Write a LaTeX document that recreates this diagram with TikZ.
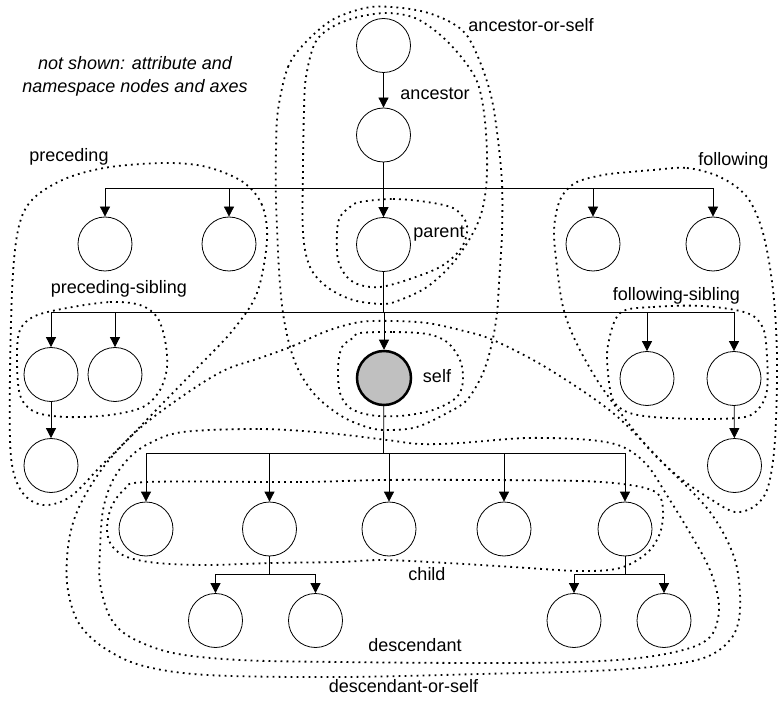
\documentclass[tikz,border=0pt]{standalone}
\usepackage{fontspec}
\setmainfont{Liberation Sans}
\usetikzlibrary{arrows.meta}
\definecolor{selfgray}{RGB}{192,192,192}
\begin{document}
\begin{tikzpicture}[x=1pt,y=-1pt,
  nd/.style={circle,draw,minimum size=54pt,inner sep=0pt,line width=0.8pt},
  selfnd/.style={circle,draw,fill=selfgray,minimum size=54pt,inner sep=0pt,line width=2.5pt},
  arr/.style={-{Triangle[length=10pt,width=10pt]},line width=0.8pt},
  ln/.style={line width=0.8pt},
  axisline/.style={line width=1.8pt,dash pattern=on 1.8pt off 4.2pt},
  lbl/.style={anchor=base,inner sep=0pt,font=\fontsize{18}{21}\selectfont}
]
\useasboundingbox (0,0) rectangle (782,703);

% nodes
\node[nd] (n1) at (383.5,45.5) {};
\node[nd] (n2) at (383.5,135) {};
\node[nd] (r1a) at (105,244) {};
\node[nd] (r1b) at (229,244) {};
\node[nd] (par) at (383.5,244.5) {};
\node[nd] (r1d) at (593,244) {};
\node[nd] (r1e) at (713,244) {};
\node[nd] (ps1) at (51,374.5) {};
\node[nd] (ps2) at (115,374.5) {};
\node[selfnd] (self) at (384,378) {};
\node[nd] (fs1) at (647,378.5) {};
\node[nd] (fs2) at (734,378.5) {};
\node[nd] (psc) at (51,465.5) {};
\node[nd] (fsc) at (734.5,465.5) {};
\node[nd] (ch1) at (146,529) {};
\node[nd] (ch2) at (269.5,529) {};
\node[nd] (ch3) at (389,529) {};
\node[nd] (ch4) at (504,529) {};
\node[nd] (ch5) at (625,529) {};
\node[nd] (gc1) at (215.5,620.5) {};
\node[nd] (gc2) at (315.5,620.5) {};
\node[nd] (gc3) at (574,620.5) {};
\node[nd] (gc4) at (664,620.5) {};

% connectors
\draw[arr] (n1) -- (n2);
\coordinate (b1) at (383.5,188.5);
\draw[ln] (n2) -- (b1);
\foreach \t in {r1a,r1b,par,r1d,r1e} \draw[arr] (b1) -| (\t);
\coordinate (b2) at (383.5,312.5);
\draw[ln] (par) -- (b2);
\foreach \t in {ps1,ps2,self,fs1,fs2} \draw[arr] (b2) -| (\t);
\draw[arr] (ps1) -- (psc);
\draw[arr] (fs2) -- (fsc);
\coordinate (b3) at (383.5,453.5);
\draw[ln] (self) -- (b3);
\foreach \t in {ch1,ch2,ch3,ch4,ch5} \draw[arr] (b3) -| (\t);
\coordinate (b4) at (269.5,574);
\draw[ln] (ch2) -- (b4);
\foreach \t in {gc1,gc2} \draw[arr] (b4) -| (\t);
\coordinate (b5) at (625,574);
\draw[ln] (ch5) -- (b5);
\foreach \t in {gc3,gc4} \draw[arr] (b5) -| (\t);

% axis regions
% ancestor-or-self
\draw[axisline] plot[smooth cycle,tension=0.55] coordinates {
 (278,110) (288,67) (305,43) (332,20) (365,8) (392,7) (425,12) (452,23) (468,37)
 (482,67) (492,100) (498,140) (502,183) (502,233) (499,283) (497,313) (492,343) (483,373)
 (467,400) (447,413) (417,427) (390,430) (370,428) (343,417) (317,397) (300,373) (290,347)
 (283,313) (279,270) (276,200) (276,150)};
% ancestor
\draw[axisline] plot[smooth cycle,tension=0.55] coordinates {
 (304,110) (306,77) (315,43) (332,27) (358,17) (388,13) (415,18) (438,33) (458,53) (475,77)
 (482,100) (486,133) (487,173) (483,207) (473,233) (453,263) (427,287) (400,300) (383,304)
 (353,300) (327,287) (310,267) (303,233) (303,167)};
% parent
\draw[axisline] plot[smooth cycle,tension=0.55] coordinates {
 (360,202) (393,199) (427,202) (453,208) (465,220) (467,233) (460,250) (440,267) (407,280)
 (380,287) (360,285) (347,277) (338,260) (337,233) (340,217) (350,207)};
% self
\draw[axisline] plot[smooth cycle,tension=0.55] coordinates {
 (360,333) (393,332) (427,334) (447,342) (460,360) (463,380) (457,397) (433,410) (400,416)
 (370,415) (350,408) (340,393) (338,367) (342,347) (353,338)};
% preceding
\draw[axisline] plot[smooth cycle,tension=0.55] coordinates {
 (267,240) (262,205) (243,182) (207,167) (167,163) (110,167) (67,178) (35,197) (20,222)
 (13,273) (10,373) (11,457) (22,492) (43,505) (70,497) (100,467) (130,437) (163,403)
 (200,365) (233,330) (257,293)};
% preceding-sibling
\draw[axisline] plot[smooth cycle,tension=0.55] coordinates {
 (67,308) (110,302) (140,305) (157,317) (165,340) (167,367) (160,390) (143,407) (110,415)
 (67,417) (35,412) (20,395) (17,357) (20,330) (35,316)};
% following
\draw[axisline] plot[smooth cycle,tension=0.55] coordinates {
 (653,170) (687,168) (720,177) (747,197) (763,233) (773,290) (777,357) (775,440) (768,487)
 (755,506) (735,512) (712,500) (680,478) (650,450) (622,415) (597,380) (575,340) (563,307)
 (557,267) (554,230) (560,200) (575,183) (603,175) (630,172)};
% following-sibling
\draw[axisline] plot[smooth cycle,tension=0.55] coordinates {
 (620,313) (653,307) (703,306) (747,313) (763,328) (767,357) (767,390) (760,407) (745,417)
 (703,419) (653,417) (627,412) (613,400) (608,373) (608,345)};
% descendant-or-self
\draw[axisline] plot[smooth cycle,tension=0.55] coordinates {
 (260,358) (293,346) (327,331) (360,322) (393,321) (427,323) (460,330) (493,340) (547,368)
 (613,413) (663,463) (710,512) (735,560) (740,610) (730,640) (697,660) (613,670) (480,674)
 (340,677) (207,675) (140,665) (100,645) (77,620) (67,583) (69,540) (80,505) (105,465)
 (140,428) (187,393) (225,370)};
% descendant
\draw[axisline] plot[smooth cycle,tension=0.55] coordinates {
 (183,432) (260,429) (327,433) (387,440) (420,444) (460,443) (527,438) (590,440) (623,447)
 (647,465) (668,497) (690,533) (710,570) (719,605) (713,633) (693,647) (647,657) (580,662)
 (480,663) (340,662) (240,660) (173,653) (130,637) (110,617) (100,583) (100,550) (103,510)
 (113,480) (130,457) (150,443)};
% child
\draw[axisline] plot[smooth cycle,tension=0.55] coordinates {
 (147,482) (300,482) (383,480) (480,480) (580,481) (630,485) (657,493) (663,510) (660,533)
 (647,553) (620,568) (580,571) (513,567) (447,563) (383,560) (340,562) (273,563) (207,565)
 (157,563) (127,557) (112,546) (107,530) (111,508) (124,490)};

% labels
\node[lbl,font=\fontsize{18}{21}\selectfont\itshape] (t1) at (135,70) {not shown: attribute and};
\node[lbl,font=\fontsize{18}{21}\selectfont\itshape] (t2) at (135,93) {namespace nodes and axes};
\node[lbl] (lanc2) at (531,32) {ancestor-or-self};
\node[lbl] (lanc) at (435,100) {ancestor};
\node[lbl] (lpre) at (69,162) {preceding};
\node[lbl] (lfol) at (733.5,166) {following};
\node[lbl] (lpar) at (439,238) {parent};
\node[lbl] (lps) at (119,294) {preceding-sibling};
\node[lbl] (lfs) at (676.5,301) {following-sibling};
\node[lbl] (lself) at (437,382) {self};
\node[lbl] (lchild) at (427,580) {child};
\node[lbl] (ldesc) at (415,651) {descendant};
\node[lbl] (ldos) at (403.5,692) {descendant-or-self};
\end{tikzpicture}
\end{document}
